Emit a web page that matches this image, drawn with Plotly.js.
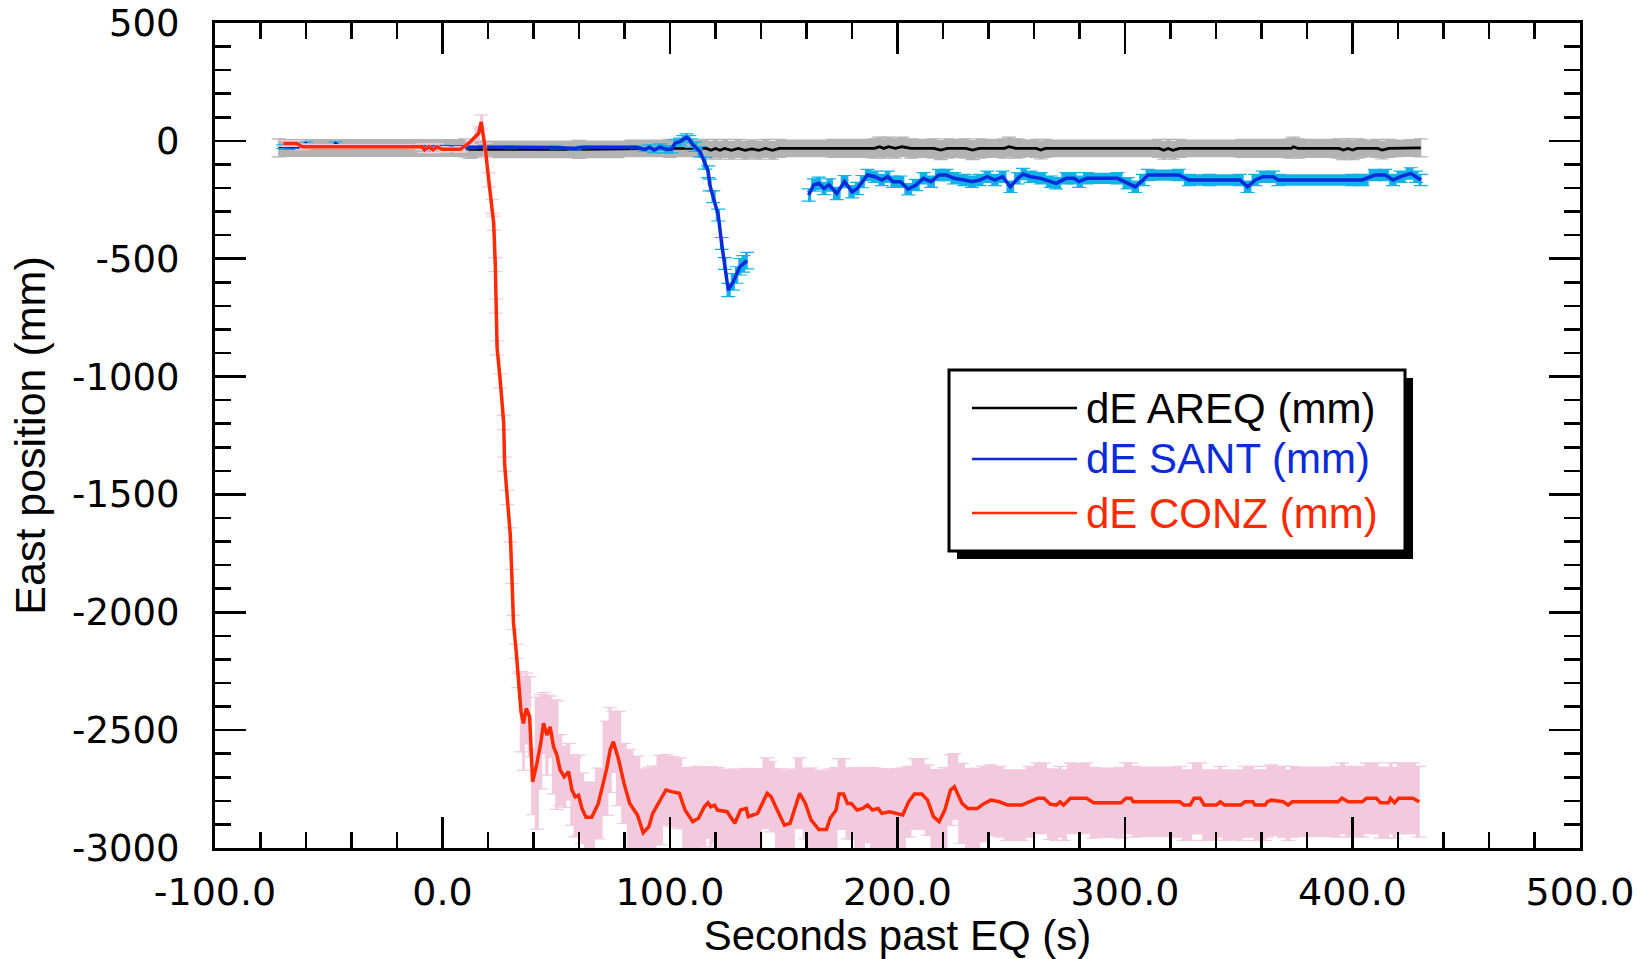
<!DOCTYPE html>
<html>
<head>
<meta charset="utf-8">
<script src="https://cdn.plot.ly/plotly-3.0.1.min.js"></script>
<style>html,body{margin:0;padding:0;background:#fff;}#chart{width:1637px;height:959px;}</style>
</head>
<body>
<div id="chart"></div>
<script>
// ---------- data ----------
const xTickVals = [-100, 0, 100, 200, 300, 400, 500];
const xTickText = ['-100.0', '0.0', '100.0', '200.0', '300.0', '400.0', '500.0'];
const yTickVals = [-3000, -2500, -2000, -1500, -1000, -500, 0, 500];
const yTickText = ['-3000', '-2500', '-2000', '-1500', '-1000', '-500', '0', '500'];

const seriesNames = ['dE AREQ (mm)', 'dE SANT (mm)', 'dE CONZ (mm)'];

// AREQ (black)
const areqT = [-72, 10, 12, 60, 100, 116, 118, 120, 122, 124, 127, 130, 133, 136, 139, 142, 145, 148, 190, 192, 194, 196, 199, 202, 206, 216, 219, 222, 230, 233, 236, 247, 249, 252, 261, 263, 265, 315, 317, 319, 321, 324, 373, 374, 376, 394, 396, 398, 400, 402, 411, 413, 416, 430];
const areqV = [-30, -30, -36, -36, -32, -32, -40, -32, -40, -32, -40, -32, -40, -34, -40, -32, -40, -32, -32, -25, -32, -25, -32, -25, -32, -32, -39, -32, -32, -39, -32, -32, -25, -32, -32, -39, -32, -32, -40, -32, -40, -32, -32, -25, -32, -32, -39, -32, -39, -32, -32, -39, -32, -30];
const areqErr = [38, 38, 38, 38, 38, 38, 38, 38, 38, 38, 38, 38, 38, 38, 38, 38, 38, 38, 41, 41, 41, 41, 41, 41, 41, 41, 41, 41, 41, 41, 41, 41, 41, 41, 38, 38, 38, 38, 38, 38, 38, 38, 41, 41, 41, 41, 41, 41, 41, 41, 38, 38, 38, 38];

// SANT (blue) - null marks the data gap
const santT = [-70, -62, -60, -58, -48, -47, -45, 0, 12, 30, 50, 58, 62, 85, 89, 91, 93, 95.6, 98.6, 100.7, 102.2, 104.4, 105.8, 107.3, 108.5, 109.5, 111, 113.2, 115.4, 116.8, 117.5, 119, 121.2, 122.7, 124.1, 125.6, 127.8, 129.3, 130.7, 132.2, 133.9, 147,
  160.9, 163.2, 165.4, 167.7, 169.9, 173.3, 176.7, 180.1, 182.3, 184.5, 186.8, 190.1, 193.1, 195.7, 198, 201.3, 204.7, 208.1, 211.4, 214.8, 218.2, 221.5, 224.9, 229.4, 232.7, 236.1, 239.5, 242.8, 246.2, 249.6, 252.9, 255.2, 258.5, 263, 267.5, 269.7, 274.2, 277.6, 279.8, 283.2, 296.7, 301.2, 304.5, 307.9, 310.1, 323.6, 328.1, 337.1, 350.5, 353.9, 357.3, 360.6, 365.1, 367.4, 399.8, 404.3, 409.9, 414.4, 417.8, 421.1, 425.6, 427.9, 430.1];
const santV = [-25, -25, -12, -25, -25, -12, -25, -25, -27, -27, -28, -32, -27, -27, -36, -27, -39, -27, -36, -36, -10, -3, 7, 15, 7, -10, -25, -46, -95, -131, -187, -237, -315, -435, -520, -633, -598, -569, -534, -522, -508, null,
  -230, -187, -180, -202, -187, -223, -173, -216, -202, -173, -145, -152, -166, -152, -173, -173, -205, -187, -159, -173, -145, -145, -159, -166, -173, -166, -152, -166, -152, -195, -159, -141, -152, -159, -173, -180, -159, -159, -173, -159, -159, -180, -195, -166, -145, -145, -166, -166, -166, -195, -166, -152, -152, -166, -166, -166, -145, -145, -166, -152, -138, -152, -166];
const santErr = [8, 8, 8, 8, 8, 8, 8, 6, 6, 6, 6, 6, 6, 6, 8, 10, 12, 14, 15, 15, 15, 15, 15, 15, 15, 18, 20, 22, 25, 25, 25, 25, 25, 25, 25, 28, 35, 35, 35, 35, 35, 0,
  26, 26, 26, 26, 26, 26, 26, 26, 26, 26, 24, 24, 24, 24, 24, 24, 24, 24, 24, 24, 24, 24, 24, 24, 24, 24, 24, 24, 24, 24, 24, 24, 24, 24, 24, 24, 24, 24, 24, 24, 24, 24, 24, 24, 24, 24, 24, 24, 24, 24, 24, 24, 24, 24, 24, 24, 24, 24, 24, 24, 24, 24, 24];

// CONZ (red)
const conzT = [-70, -64, -61.6, -8.9, -7.9, -6, -4.1, -2.4, -0.2, 7.9, 12.3, 15.9, 17, 18.9, 20.3, 21.8, 22.5, 23.2, 23.5, 24.0, 25.4, 26.9, 27.3, 28.3, 29.8, 30.5, 31.2, 32.4, 33.4, 34.5, 35.6, 36.8, 38.3, 39.6, 41.5, 43.3, 44.4, 45.9, 47.3, 48.8, 50.3, 51.7, 53.5, 55.4, 56.9, 58.3, 59.8, 61.3, 63.1, 65.6, 68.5, 72.2, 73.7, 75.1, 77.3, 79.8, 82.3, 85.7, 88.2, 90.7, 92.4, 95.7, 98.2, 100.7, 104.1, 106.6, 110.0, 112.5, 115.1, 116.7, 117.9, 119.6, 120.9, 125.1, 128.5, 131, 133.5, 134.4, 138.5, 142.7, 144.4, 147.8, 150.3, 152.8, 157, 159.5, 162, 165.4, 168.8, 170.4, 173, 174.3, 176.3, 178, 179.7, 182.2, 184.7, 186.8, 189, 191.5, 193.1, 196.5, 199.8, 202.3, 204.9, 207.4, 210.7, 213.2, 215.8, 218.3, 220.8, 223.3, 225, 228.4, 230.9, 235.1, 237.6, 241, 244.8, 248.4, 254.6, 258.2, 261.7, 264.4, 267.1, 269.8, 271.5, 273, 276, 283.1, 286.2, 298.3, 300.4, 302.7, 303.6, 324.1, 325.9, 328.6, 330.4, 333, 334.8, 340.2, 341.9, 343.7, 350.9, 352.7, 356.2, 357.1, 361.6, 362.5, 364.3, 369.6, 371.7, 373.5, 393.6, 395.4, 398.1, 404.3, 406.1, 410.5, 412.3, 415.8, 416.7, 418.5, 420.3, 422.9, 426.5, 429.3];
const conzV = [-11, -11, -25, -25, -38, -25, -38, -25, -36, -36, -4, 32, 80, -40, -165, -278, -349, -525, -701, -878, -1019, -1195, -1372, -1513, -1672, -1848, -2043, -2166, -2289, -2422, -2471, -2408, -2443, -2719, -2641, -2549, -2471, -2521, -2486, -2570, -2606, -2669, -2698, -2676, -2754, -2783, -2776, -2832, -2870, -2870, -2811, -2662, -2584, -2549, -2620, -2726, -2811, -2860, -2935, -2910, -2853, -2797, -2754, -2761, -2768, -2839, -2888, -2874, -2825, -2808, -2825, -2818, -2839, -2846, -2895, -2839, -2832, -2867, -2853, -2768, -2782, -2853, -2903, -2895, -2768, -2811, -2881, -2921, -2921, -2874, -2839, -2771, -2771, -2811, -2811, -2839, -2832, -2818, -2839, -2832, -2853, -2846, -2853, -2860, -2804, -2771, -2771, -2797, -2867, -2888, -2839, -2754, -2740, -2811, -2832, -2832, -2814, -2797, -2804, -2818, -2818, -2804, -2789, -2789, -2814, -2818, -2804, -2818, -2789, -2789, -2808, -2808, -2789, -2789, -2804, -2804, -2818, -2818, -2789, -2789, -2818, -2818, -2804, -2818, -2818, -2804, -2804, -2818, -2818, -2804, -2797, -2804, -2818, -2804, -2804, -2789, -2804, -2804, -2789, -2789, -2808, -2808, -2789, -2808, -2789, -2789, -2789, -2804];
const conzErr = [12, 12, 12, 12, 12, 12, 12, 12, 12, 12, 12, 30, 30, 30, 30, 30, 30, 30, 30, 30, 30, 30, 30, 30, 30, 30, 30, 30, 30, 170, 200, 150, 170, 140, 280, 200, 130, 170, 130, 200, 230, 150, 130, 120, 150, 170, 170, 150, 150, 150, 150, 200, 180, 130, 200, 170, 230, 250, 270, 250, 200, 190, 150, 150, 150, 180, 230, 220, 170, 150, 170, 160, 180, 180, 230, 170, 170, 200, 190, 150, 150, 190, 230, 230, 150, 150, 220, 250, 250, 210, 180, 150, 150, 150, 150, 180, 170, 160, 180, 170, 190, 180, 190, 200, 150, 150, 150, 150, 200, 220, 180, 150, 140, 170, 170, 170, 160, 150, 150, 150, 150, 150, 150, 150, 150, 150, 150, 150, 150, 150, 150, 150, 150, 150, 150, 150, 150, 150, 150, 150, 150, 150, 150, 150, 150, 150, 150, 150, 150, 150, 150, 150, 150, 150, 150, 150, 150, 150, 150, 150, 150, 150, 150, 150, 150, 150, 150, 150, 150, 150];

// ---------- styling ----------
const lineColors = ['#000000', '#0a2bd9', '#ff2a00'];
const bandColors = ['#b3b3b3', '#10b2e8', '#f2c9dd'];
const lineWidths = [2.8, 3.5, 3.5];

function segments(t, v, e) {
  const segs = []; let cur = null;
  for (let i = 0; i < t.length; i++) {
    if (v[i] === null) { cur = null; continue; }
    if (!cur) { cur = {t: [], hi: [], lo: []}; segs.push(cur); }
    cur.t.push(t[i]); cur.hi.push(v[i] + e[i]); cur.lo.push(v[i] - e[i]);
  }
  return segs;
}
function bandTraces(t, v, e, color) {
  const out = [];
  segments(t, v, e).forEach(s => {
    out.push({x: s.t, y: s.hi, type: 'scatter', mode: 'lines', line: {width: 0, shape: 'hvh'}, hoverinfo: 'skip', showlegend: false});
    out.push({x: s.t, y: s.lo, type: 'scatter', mode: 'lines', line: {width: 0, shape: 'hvh'}, fill: 'tonexty', fillcolor: color, hoverinfo: 'skip', showlegend: false});
  });
  return out;
}
function errTrace(t, v, e, color) {
  return {x: t, y: v, type: 'scatter', mode: 'markers', marker: {size: 1, color: 'rgba(0,0,0,0)'},
    error_y: {type: 'data', array: e, visible: true, color: color, thickness: 1.2, width: 7}, hoverinfo: 'skip', showlegend: false};
}
function lineTrace(t, v, i) {
  return {x: t, y: v, type: 'scatter', mode: 'lines', name: seriesNames[i], line: {color: lineColors[i], width: lineWidths[i]}, connectgaps: false, showlegend: false};
}

const data = [].concat(
  bandTraces(areqT, areqV, areqErr, bandColors[0]), [errTrace(areqT, areqV, areqErr, bandColors[0]), lineTrace(areqT, areqV, 0)],
  bandTraces(santT, santV, santErr, bandColors[1]), [errTrace(santT, santV, santErr, bandColors[1]), lineTrace(santT, santV, 1)],
  bandTraces(conzT, conzV, conzErr, bandColors[2]), [errTrace(conzT, conzV, conzErr, bandColors[2]), lineTrace(conzT, conzV, 2)]
);

// ---------- layout ----------
const W = 1637, H = 959, L = 215, R = 57, T = 23, B = 111;
const PW = W - L - R, PH = H - T - B;
const px = p => (p - L) / PW;
const py = p => 1 - (p - T) / PH;

const box = {x0: 949, y0: 370, x1: 1405, y1: 551};
const shadow = 8;
const legendRows = [408, 459, 513];
const shapes = [
  {type: 'rect', xref: 'paper', yref: 'paper', x0: px(box.x0 + shadow), x1: px(box.x1 + shadow), y0: py(box.y0 + shadow), y1: py(box.y1 + shadow), fillcolor: '#000', line: {width: 0}},
  {type: 'rect', xref: 'paper', yref: 'paper', x0: px(box.x0), x1: px(box.x1), y0: py(box.y0), y1: py(box.y1), fillcolor: '#fff', line: {color: '#000', width: 3}}
];
const annotations = [];
legendRows.forEach((yy, i) => {
  shapes.push({type: 'line', xref: 'paper', yref: 'paper', x0: px(972), x1: px(1077), y0: py(yy), y1: py(yy), line: {color: lineColors[i], width: 2.5}});
  annotations.push({xref: 'paper', yref: 'paper', x: px(1084), y: py(yy), xanchor: 'left', yanchor: 'middle', showarrow: false,
    text: seriesNames[i], font: {family: 'Liberation Sans, Arial, sans-serif', size: 42, color: lineColors[i]}});
});

const axisCommon = {
  ticks: 'inside', ticklen: 31, tickwidth: 2.5, tickcolor: '#000',
  showline: true, linewidth: 3, linecolor: '#000', mirror: 'ticks',
  showgrid: false, zeroline: false
};

const layout = {
  width: W, height: H,
  margin: {l: L, r: R, t: T, b: B, pad: 0},
  paper_bgcolor: '#fff', plot_bgcolor: '#fff',
  showlegend: false,
  font: {family: 'Liberation Sans, Arial, sans-serif', color: '#000'},
  xaxis: Object.assign({}, axisCommon, {
    range: [-100, 500], tickmode: 'array', tickvals: xTickVals, ticktext: xTickText,
    tickfont: {family: 'DejaVu Sans', size: 38, color: '#000'}, ticklabelstandoff: 8,
    minor: {tickmode: 'linear', tick0: -100, dtick: 20, ticks: 'inside', ticklen: 16, tickwidth: 2.5, tickcolor: '#000', showgrid: false},
    title: {text: 'Seconds past EQ (s)', font: {family: 'Liberation Sans, Arial, sans-serif', size: 42, color: '#000'}, standoff: 22}
  }),
  yaxis: Object.assign({}, axisCommon, {
    range: [-3000, 500], tickmode: 'array', tickvals: yTickVals, ticktext: yTickText,
    tickfont: {family: 'DejaVu Sans', size: 37, color: '#000'}, ticklabelstandoff: 25,
    minor: {tickmode: 'linear', tick0: -3000, dtick: 100, ticks: 'inside', ticklen: 16, tickwidth: 2.5, tickcolor: '#000', showgrid: false},
    title: {text: 'East position (mm)', font: {family: 'Liberation Sans, Arial, sans-serif', size: 43, color: '#000'}, standoff: 14}
  }),
  shapes: shapes,
  annotations: annotations
};

Plotly.newPlot('chart', data, layout, {displayModeBar: false, staticPlot: true});
</script>
</body>
</html>
